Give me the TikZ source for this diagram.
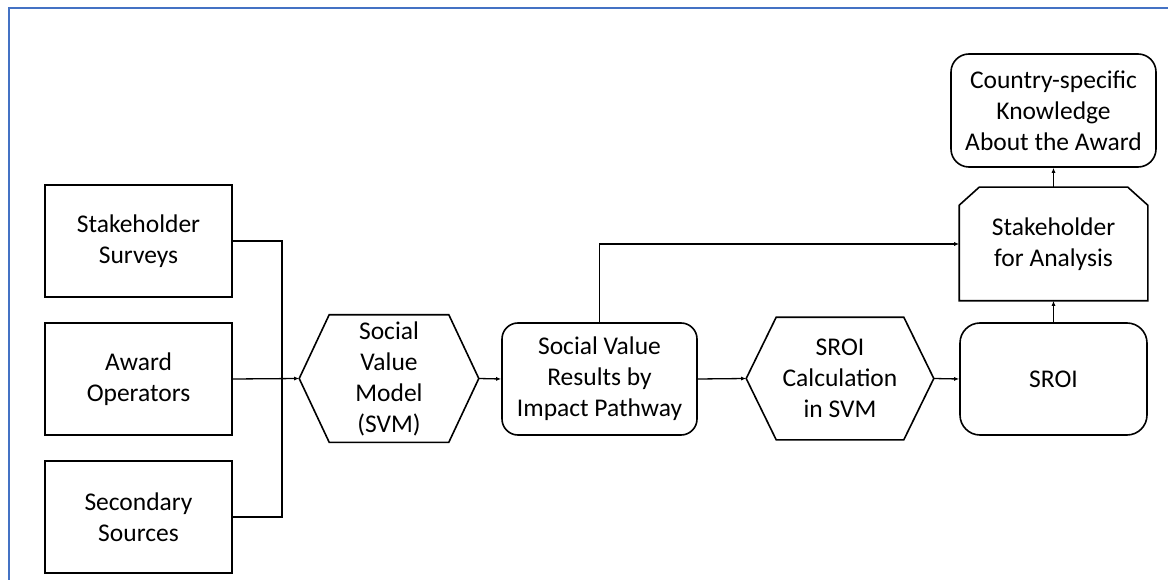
\documentclass[tikz,border=0pt]{standalone}
\usepackage{fontspec}
\setmainfont{Carlito}
\usetikzlibrary{arrows.meta}
\definecolor{framebl}{RGB}{68,114,196}
\begin{document}
\begin{tikzpicture}[x=1pt,y=-1pt,
 box/.style={draw,line width=1.6pt,align=center,inner sep=0pt,minimum width=187pt,minimum height=112pt,font=\fontsize{25.5}{31}\selectfont},
 rbox/.style={box,rounded corners=16pt},
 hexa/.style={box,draw=none,minimum height=126pt},
 con/.style={line width=1.3pt},
 arr/.style={con,-{Latex[length=5pt,width=4pt]}}]
 \useasboundingbox (0,0) rectangle (1168,580);
 % frame
 \draw[framebl,line width=2.4pt] (9,580) -- (9,8) -- (1168,8);
 % sources
 \node[box] (ss) at (138.5,241) {Stakeholder\\Surveys};
 \node[box] (ao) at (138.5,379) {Award\\Operators};
 \node[box] (sec) at (138.5,517) {Secondary\\Sources};
 \coordinate (jn) at (282,379);
 % models and results
 \node[hexa,minimum width=178pt] (svm) at (389,378.5) {Social\\Value\\Model\\(SVM)};
 \draw[line width=1.6pt] (svm.west) -- ([xshift=30pt]svm.north west) -- ([xshift=-30pt]svm.north east) -- (svm.east)
  -- ([xshift=-30pt]svm.south east) -- ([xshift=30pt]svm.south west) -- cycle;
 \node[rbox,minimum width=195pt] (svr) at (599.5,379) {Social Value\\Results by\\Impact Pathway};
 \node[hexa,minimum width=186pt,minimum height=121pt] (calc) at (840,378.5) {SROI\\Calculation\\in SVM};
 \draw[line width=1.6pt] (calc.west) -- ([xshift=30pt]calc.north west) -- ([xshift=-30pt]calc.north east) -- (calc.east)
  -- ([xshift=-30pt]calc.south east) -- ([xshift=30pt]calc.south west) -- cycle;
 \node[rbox,rounded corners=20pt] (sroi) at (1053.5,379) {SROI};
 \node[box,draw=none] (sfa) at (1053.5,244) {Stakeholder\\for Analysis};
 \draw[line width=1.6pt] (sfa.south west) -- ([yshift=-18pt]sfa.north west) -- ([xshift=20pt]sfa.north west)
  -- ([xshift=-20pt]sfa.north east) -- ([yshift=-18pt]sfa.north east) -- (sfa.south east) -- cycle;
 \node[rbox,minimum width=205pt,minimum height=113pt,rounded corners=18pt] (csk) at (1053.5,110.5) {Country-specific\\Knowledge\\About the Award};
 % connectors
 \draw[con] (ss.east) -| (jn);
 \draw[con] (sec.east) -| (jn);
 \draw[arr] (ao.east) -- (svm.west);
 \draw[arr] (svm.east) -- (svr.west);
 \draw[arr] (svr.east) -- (calc.west);
 \draw[arr] (calc.east) -- (sroi.west);
 \draw[arr] (svr.north) |- (sfa.west);
 \draw[arr] (sroi.north) -- (sfa.south);
 \draw[arr] (sfa.north) -- (csk.south);
\end{tikzpicture}
\end{document}
